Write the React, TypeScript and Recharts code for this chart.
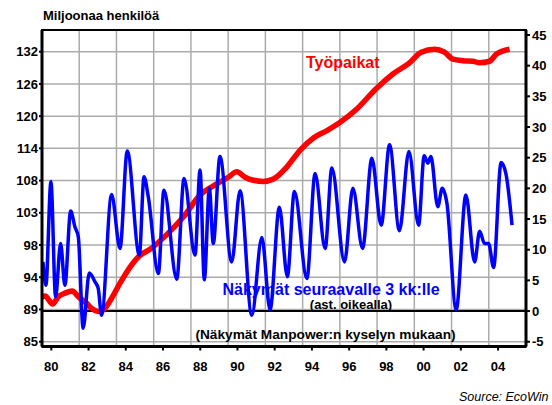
import React from "react";
import { LineChart, Line, XAxis, YAxis, CartesianGrid, ReferenceLine, ReferenceArea } from "recharts";

// Näkymät seuraavalle 3 kk:lle (right axis, %)
const blueYears = [
  1980.05, 1980.21, 1980.48, 1980.73, 1981.0, 1981.23, 1981.54, 1981.77, 1981.95, 1982.21,
  1982.54, 1982.84, 1983.02, 1983.2, 1983.74, 1984.19, 1984.58, 1985.23, 1985.48, 1985.71,
  1986.25, 1986.55, 1987.24, 1987.63, 1988.22, 1988.49, 1988.72, 1988.99, 1989.2, 1989.56,
  1990.19, 1990.64, 1991.27, 1991.81, 1992.25, 1992.75, 1993.18, 1993.56, 1994.23, 1994.67,
  1995.21, 1995.57, 1996.25, 1996.7, 1997.22, 1997.72, 1998.22, 1998.67, 1999.2, 1999.71,
  2000.23, 2000.53, 2000.73, 2000.89, 2001.26, 2001.5, 2001.75, 2002.25, 2002.77, 2003.24,
  2003.51, 2003.77, 2003.99, 2004.26, 2004.66, 2004.92, 2005.25,
];
const blueValues = [
  8.0, 4.2, 21.1, 2.3, 11.0, 4.2, 16.3, 13.7, 12.1, -2.8,
  6.2, 4.8, 3.7, -0.7, 19.0, 10.2, 26.1, 9.1, 21.9, 18.6,
  6.1, 19.7, 5.2, 21.6, 9.1, 23.0, 5.1, 20.0, 11.0, 25.2,
  8.0, 19.6, -0.7, 12.0, 0.2, 16.9, 5.6, 19.5, 5.3, 22.4,
  10.2, 23.3, 8.0, 20.0, 10.2, 24.9, 14.0, 27.1, 13.1, 26.0,
  14.0, 25.3, 24.1, 25.2, 17.0, 20.0, 17.6, 0.2, 18.9, 8.0,
  13.0, 11.0, 11.0, 7.1, 24.2, 22.4, 14.0,
];

// Työpaikat (left axis, millions, log scale)
const redYears = [
  1980.0, 1980.16, 1980.57, 1980.87, 1981.23, 1981.62, 1981.95, 1982.4, 1982.67, 1983.02,
  1983.29, 1983.74, 1984.19, 1984.73, 1985.26, 1985.8, 1986.7, 1987.59, 1988.49, 1989.39,
  1990.01, 1990.46, 1990.91, 1991.35, 1991.89, 1992.43, 1993.15, 1993.87, 1994.58, 1995.3,
  1995.98, 1996.88, 1997.95, 1998.85, 1999.74, 2000.37, 2001.09, 2001.62, 2002.08, 2002.61,
  2003.15, 2003.5, 2004.04, 2004.4, 2005.12,
];
const redValues = [
  91.0, 91.1, 90.0, 91.0, 91.5, 91.8, 91.0, 90.1, 89.4, 89.0,
  89.2, 90.8, 92.9, 95.2, 96.9, 97.8, 100.0, 102.7, 106.2, 108.0,
  109.1, 110.0, 109.1, 108.6, 108.4, 108.8, 110.8, 113.7, 115.8, 117.1,
  118.5, 120.9, 124.8, 127.6, 129.8, 131.9, 132.5, 131.9, 130.5, 130.2,
  130.1, 129.8, 130.1, 131.5, 132.5,
];

const xTickYears = [1980.5, 1982.5, 1984.5, 1986.5, 1988.5, 1990.5, 1992.5, 1994.5, 1996.5, 1998.5, 2000.5, 2002.5, 2004.5];
const xTickLabels = ["80", "82", "84", "86", "88", "90", "92", "94", "96", "98", "00", "02", "04"];
const gridYears = [1982, 1984, 1986, 1988, 1990, 1992, 1994, 1996, 1998, 2000, 2002, 2004];
const leftTickLabels = ["85", "89", "94", "98", "103", "108", "114", "120", "126", "132"];
const rightTicks = [-5, 0, 5, 10, 15, 20, 25, 30, 35, 40, 45];

const xDomain: [number, number] = [1980, 2006];
const ratio = Math.pow(132 / 85, 1 / 9);
const leftTicks = leftTickLabels.map((_, i) => 85 * Math.pow(ratio, i));
const leftDomain: [number, number] = [85 * Math.pow(ratio, -0.149), 132 * Math.pow(ratio, 0.6735)];
const rightDomain: [number, number] = [-5.78, 45.81];

const blueData = blueYears.map((t, i) => ({ t, v: blueValues[i] }));
const redData = redYears.map((t, i) => ({ t, v: redValues[i] }));

const FONT = '"Liberation Sans", Arial, Helvetica, sans-serif';
const tickStyle = { fontFamily: FONT, fontSize: 13, fontWeight: 700, fill: "#000" };

export default function App() {
  const vGen = (props: any) => {
    const o = props.offset;
    return gridYears.map((y) => o.left + ((y - xDomain[0]) / (xDomain[1] - xDomain[0])) * o.width);
  };
  const hGen = (props: any) => {
    const o = props.offset;
    const lt = Math.log(leftDomain[1]);
    const lb = Math.log(leftDomain[0]);
    return leftTicks.map((v) => o.top + ((lt - Math.log(v)) / (lt - lb)) * o.height);
  };
  return (
    <div style={{ position: "absolute", left: 0, top: 0, width: 552, height: 405, background: "#fff" }}>
      <LineChart
        width={552}
        height={405}
        margin={{ top: 30, right: 0, bottom: 0, left: 0 }}
      >
        <CartesianGrid
          stroke="#ababab"
          strokeWidth={1.5}
          verticalCoordinatesGenerator={vGen}
          horizontalCoordinatesGenerator={hGen}
          yAxisId="left"
        />
        <XAxis
          dataKey="t"
          type="number"
          domain={xDomain}
          allowDataOverflow
          ticks={xTickYears}
          tickFormatter={(_v: any, i: number) => xTickLabels[i]}
          height={58.5}
          tickSize={4}
          tickMargin={11}
          tick={tickStyle}
          axisLine={{ stroke: "#000", strokeWidth: 3 }}
          tickLine={{ stroke: "#000", strokeWidth: 2 }}
          interval={0}
        />
        <YAxis
          yAxisId="left"
          type="number"
          scale="log"
          domain={leftDomain}
          allowDataOverflow
          ticks={leftTicks}
          tickFormatter={(_v: any, i: number) => leftTickLabels[i]}
          width={42}
          tickSize={3}
          tickMargin={1}
          tick={tickStyle}
          axisLine={{ stroke: "#000", strokeWidth: 3 }}
          tickLine={{ stroke: "#000", strokeWidth: 2 }}
          interval={0}
        />
        <YAxis
          yAxisId="right"
          orientation="right"
          type="number"
          domain={rightDomain}
          allowDataOverflow
          ticks={rightTicks}
          width={26}
          tickSize={4}
          tickMargin={2}
          tick={{ ...tickStyle, textAnchor: "start" }}
          axisLine={{ stroke: "#000", strokeWidth: 3 }}
          tickLine={{ stroke: "#000", strokeWidth: 2 }}
          interval={0}
        />
        <ReferenceArea
          yAxisId="right"
          x1={xDomain[0]}
          x2={xDomain[1]}
          y1={rightDomain[0]}
          y2={rightDomain[1]}
          fill="none"
          fillOpacity={0}
          stroke="#000"
          strokeWidth={2}
          ifOverflow="visible"
        />
        <ReferenceLine yAxisId="right" y={0} stroke="#000" strokeWidth={2} />
        <Line
          yAxisId="left"
          data={redData}
          dataKey="v"
          type="monotone"
          stroke="#ff0000"
          strokeWidth={5.5}
          dot={false}
          isAnimationActive={false}
        />
        <Line
          yAxisId="right"
          data={blueData}
          dataKey="v"
          type="monotone"
          stroke="#0000ff"
          strokeWidth={3.5}
          dot={false}
          isAnimationActive={false}
        />
      </LineChart>
      <svg
        width={552}
        height={405}
        style={{ position: "absolute", left: 0, top: 0, pointerEvents: "none" }}
      >
        <text x={43} y={19.7} fontFamily={FONT} fontSize={13} fontWeight={700} fill="#000">
          Miljoonaa henkilöä
        </text>
        <text x={306} y={67.5} fontFamily={FONT} fontSize={16} fontWeight={700} fill="#ff0000">
          Työpaikat
        </text>
        <text x={222.5} y={294.5} fontFamily={FONT} fontSize={16} fontWeight={700} fill="#0000ff">
          Näkymät seuraavalle 3 kk:lle
        </text>
        <text x={351} y={308.5} textAnchor="middle" fontFamily={FONT} fontSize={13} fontWeight={700} fill="#000">
          (ast. oikealla)
        </text>
        <text x={325.5} y={339} textAnchor="middle" fontFamily={FONT} fontSize={13.7} fontWeight={700} fill="#000">
          (Näkymät Manpower:n kyselyn mukaan)
        </text>
        <text x={548.5} y={401} textAnchor="end" fontFamily={FONT} fontSize={12.5} fontStyle="italic" fill="#000">
          Source: EcoWin
        </text>
      </svg>
    </div>
  );
}
